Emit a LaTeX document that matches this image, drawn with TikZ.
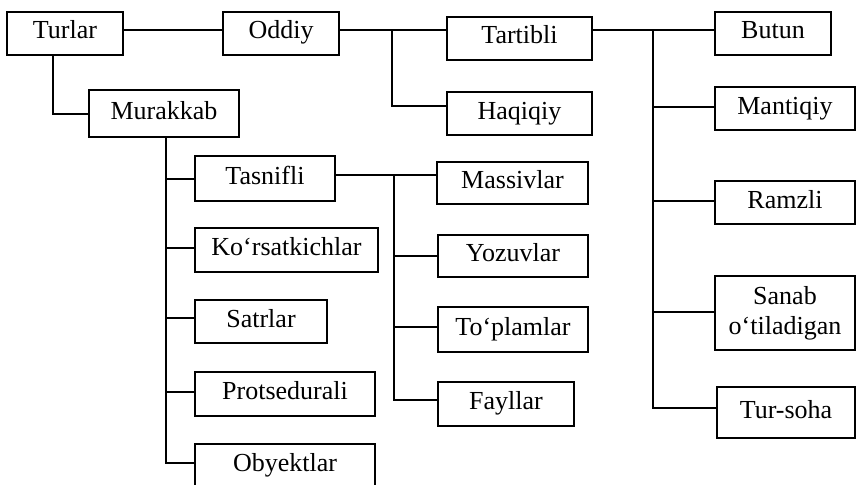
\documentclass[tikz,border=0pt]{standalone}
\usepackage{fontspec}
\setmainfont{Liberation Serif}
\begin{document}
\begin{tikzpicture}[x=1pt,y=-1pt,
  frame/.style={draw, line width=2pt, inner sep=0pt, align=center,
    font=\fontsize{26}{30}\selectfont},
  box/.style={frame, text height=17pt, text depth=6pt},
  link/.style={line width=2pt},
  bus/.style={line width=2.4pt}]
\clip (0,0) rectangle (858,484);

% top row
\node[box, minimum width=116, minimum height=43] (turlar)   at (65,33.5)   {Turlar};
\node[box, minimum width=116, minimum height=43] (oddiy)    at (281,33.5)  {Oddiy};
\node[box, minimum width=150, minimum height=47] (murakkab) at (164,113.5) {Murakkab};
\node[box, minimum width=145, minimum height=43] (tartibli) at (519.5,38.5) {Tartibli};
\node[box, minimum width=145, minimum height=43] (haqiqiy)  at (519.5,113.5) {Haqiqiy};

% ordered kinds
\node[box, minimum width=116, minimum height=43] (butun)    at (773,33.5)  {Butun};
\node[box, minimum width=140, minimum height=43] (mantiqiy) at (785,108.5) {Mantiqiy};
\node[box, minimum width=140, minimum height=43] (ramzli)   at (785,202.5) {Ramzli};
\node[frame, minimum width=140, minimum height=74] (sanab)  at (785,313)   {Sanab\\o‘tiladigan};
\node[box, minimum width=138, minimum height=51] (tursoha)  at (786,412.5) {Tur-soha};

% compound kinds
\node[box, minimum width=140, minimum height=45] (tasnifli) at (265,178.5) {Tasnifli};
\node[box, minimum width=183, minimum height=44] (korsat)   at (286.5,250) {Ko‘rsatkichlar};
\node[box, minimum width=132, minimum height=43] (satrlar)  at (261,321.5) {Satrlar};
\node[box, minimum width=180, minimum height=44] (protsed)  at (285,394)   {Protsedurali};
\node[box, minimum width=180, minimum height=44] (obyekt)   at (285,466)   {Obyektlar};

% structured kinds
\node[box, minimum width=151, minimum height=42] (massiv)   at (512.5,183) {Massivlar};
\node[box, minimum width=150, minimum height=42] (yozuv)    at (513,256)   {Yozuvlar};
\node[box, minimum width=150, minimum height=45] (toplam)   at (513,329.5) {To‘plamlar};
\node[box, minimum width=136, minimum height=44] (fayllar)  at (506,404)   {Fayllar};

% bus junctions
\coordinate (j1) at (392,30);
\coordinate (j2) at (653,30);
\coordinate (j3) at (166,137);
\coordinate (j4) at (394,175);

% Turlar branches
\draw[link] (turlar.east |- j1) -- (oddiy.west |- j1);
\draw[link] ([xshift=-12pt]turlar.south) |- (murakkab.west);

% Oddiy branches
\draw[link] (oddiy.east |- j1) -- (tartibli.west |- j1);
\draw[bus] (j1) |- (haqiqiy.west |- 0,106);

% Tartibli branches
\draw[link] (tartibli.east |- j2) -- (butun.west |- j2);
\draw[bus] (j2) |- (tursoha.west |- 0,408);
\draw[link] (j2 |- 0,107) -- (mantiqiy.west |- 0,107);
\draw[link] (j2 |- 0,201) -- (ramzli.west |- 0,201);
\draw[link] (j2 |- 0,312) -- (sanab.west |- 0,312);

% Murakkab branches
\draw[bus] (murakkab.south -| j3) |- (obyekt.west |- 0,463);
\draw[link] (j3 |- tasnifli.west) -- (tasnifli.west);
\draw[link] (j3 |- 0,248) -- (korsat.west |- 0,248);
\draw[link] (j3 |- 0,318) -- (satrlar.west |- 0,318);
\draw[link] (j3 |- 0,392) -- (protsed.west |- 0,392);

% Tasnifli branches
\draw[link] (tasnifli.east |- j4) -- (massiv.west |- j4);
\draw[bus] (j4) |- (fayllar.west |- 0,400);
\draw[link] (j4 |- yozuv.west) -- (yozuv.west);
\draw[link] (j4 |- 0,327) -- (toplam.west |- 0,327);
\end{tikzpicture}
\end{document}
